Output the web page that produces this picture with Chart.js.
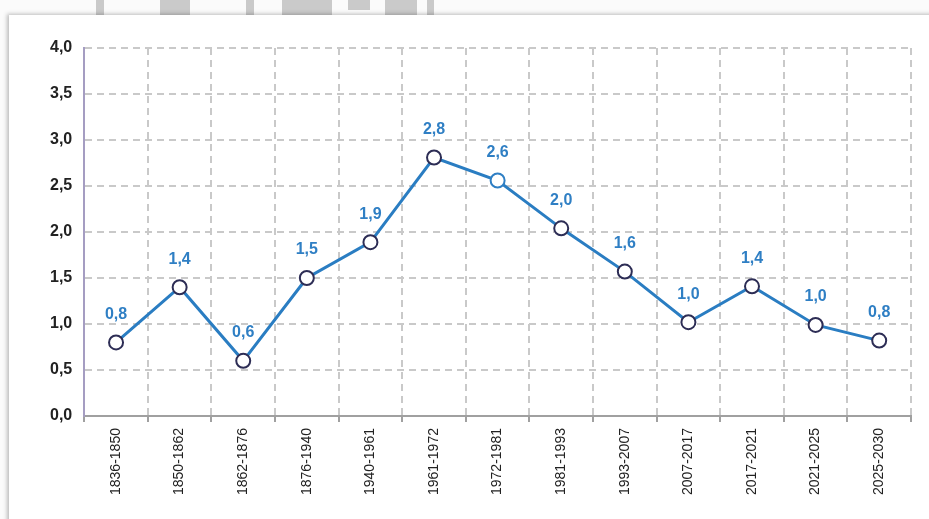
<!DOCTYPE html>
<html>
<head>
<meta charset="utf-8">
<script src="https://cdn.jsdelivr.net/npm/chart.js@4.4.1/dist/chart.umd.min.js"></script>
<style>
  html, body { margin: 0; padding: 0; background: #fbfbfb; }
  body { width: 929px; height: 519px; position: relative; overflow: hidden; }
  .wm { position: absolute; top: 0; height: 15px; background: #cacaca; }
  #panel {
    position: absolute; left: 9px; top: 15px; width: 940px; height: 520px;
    background: #fff; box-shadow: -2px -1px 4px rgba(0,0,0,0.25);
  }
  #wrap { position: absolute; left: 0; top: 0; width: 929px; height: 519px; }
</style>
</head>
<body>
<!-- restes du filigrane au-dessus du cadre -->
<div class="wm" style="left:96px;width:8px"></div>
<div class="wm" style="left:160px;width:30px"></div>
<div class="wm" style="left:246px;width:8px"></div>
<div class="wm" style="left:282px;width:50px"></div>
<div class="wm" style="left:348px;width:22px;height:10px"></div>
<div class="wm" style="left:385px;width:32px"></div>
<div class="wm" style="left:427px;width:7px"></div>
<div id="panel"></div>
<div id="wrap"><canvas id="chart"></canvas></div>
<script>
// Données du graphique
const periodes = ['1836-1850', '1850-1862', '1862-1876', '1876-1940', '1940-1961', '1961-1972',
  '1972-1981', '1981-1993', '1993-2007', '2007-2017', '2017-2021', '2021-2025', '2025-2030'];
const valeurs = [0.8, 1.4, 0.6, 1.5, 1.89, 2.81, 2.56, 2.04, 1.57, 1.02, 1.41, 0.99, 0.82];
const bordPoints = ['#2d2d55', '#2d2d55', '#2d2d55', '#2d2d55', '#2d2d55', '#2d2d55',
  '#2f7fc4', '#2d2d55', '#2d2d55', '#2d2d55', '#2d2d55', '#2d2d55', '#2d2d55'];
const ticksY = [0, 0.5, 1, 1.5, 2, 2.5, 3, 3.5, 4];

const virgule = v => v.toFixed(1).replace('.', ',');

// étiquettes au-dessus des points
const etiquettes = {
  id: 'etiquettes',
  afterDatasetsDraw(chart) {
    const ctx = chart.ctx;
    const meta = chart.getDatasetMeta(0);
    ctx.save();
    ctx.font = 'bold 16px "Liberation Sans Narrow", "Liberation Sans", Arial';
    ctx.fillStyle = '#2f7fc4';
    ctx.textAlign = 'center';
    ctx.textBaseline = 'middle';
    meta.data.forEach((pt, i) => {
      ctx.fillText(virgule(valeurs[i]), pt.x, pt.y - 28);
    });
    ctx.restore();
  }
};

const config = {
  type: 'line',
  data: {
    labels: periodes,
    datasets: [{
      data: valeurs,
      borderColor: '#2a7dc2',
      borderWidth: 3,
      pointRadius: 7,
      pointHoverRadius: 7,
      pointBackgroundColor: '#ffffff',
      pointBorderColor: bordPoints,
      pointBorderWidth: 2,
      tension: 0
    }]
  },
  options: {
    responsive: true,
    maintainAspectRatio: false,
    animation: false,
    layout: { padding: { left: 38, right: 18, top: 48, bottom: 18 } },
    plugins: { legend: { display: false }, tooltip: { enabled: false } },
    scales: {
      x: {
        offset: true,
        grid: { color: '#c9c9c9', lineWidth: 2, offset: true, tickLength: 6, tickColor: '#a0a0a0' },
        border: { color: '#a0a0a0', width: 2, dash: [7, 5] },
        ticks: {
          color: '#222',
          font: { family: '"Liberation Sans", Arial', size: 14 },
          minRotation: 90, maxRotation: 90, padding: 6, autoSkip: false
        }
      },
      y: {
        min: 0, max: 4,
        afterBuildTicks: axis => { axis.ticks = ticksY.map(v => ({ value: v })); },
        grid: { color: '#c9c9c9', lineWidth: 2, drawTicks: false },
        border: { color: '#a59dc2', width: 2, dash: [7, 5] },
        ticks: {
          color: '#222',
          font: { family: '"Liberation Sans Narrow", "Liberation Sans", Arial', size: 16, weight: 'bold' },
          padding: 12,
          callback: v => virgule(v)
        }
      }
    }
  },
  plugins: [etiquettes]
};

const graphique = new Chart(document.getElementById('chart'), config);
</script>
</body>
</html>
